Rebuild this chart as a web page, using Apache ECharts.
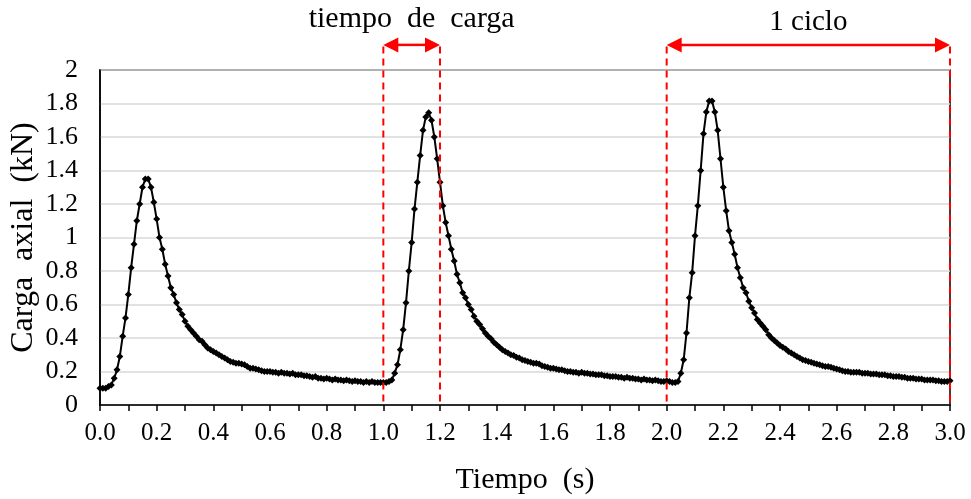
<!DOCTYPE html>
<html>
<head>
<meta charset="utf-8">
<script src="https://cdn.jsdelivr.net/npm/echarts@6/dist/echarts.min.js"></script>
<style>
  html, body { margin: 0; padding: 0; background: #fff; }
  #chart { width: 971px; height: 499px; }
</style>
</head>
<body>
<div id="chart"></div>
<script>
// Sampling interval of the load cell record (s)
const sampleStep = 0.01;

// Axial load (kN), one array per loading cycle, sampled every 0.01 s
const cycle1 = [
  0.10, 0.10, 0.10, 0.11, 0.12, 0.16, 0.21, 0.29, 0.41, 0.52,
  0.66, 0.82, 0.96, 1.10, 1.20, 1.30, 1.35, 1.35, 1.30, 1.21,
  1.11, 1.00, 0.93, 0.84, 0.77, 0.70, 0.66, 0.61, 0.57, 0.54,
  0.50, 0.47, 0.45, 0.43, 0.41, 0.39, 0.38, 0.36, 0.34, 0.33,
  0.32, 0.31, 0.30, 0.29, 0.28, 0.27, 0.26, 0.255, 0.25, 0.25,
  0.245, 0.24, 0.23, 0.22, 0.22, 0.215, 0.21, 0.205, 0.20, 0.20,
  0.20, 0.195, 0.195, 0.19, 0.195, 0.19, 0.19, 0.185, 0.19, 0.18,
  0.18, 0.18, 0.175, 0.175, 0.17, 0.165, 0.17, 0.16, 0.16, 0.155,
  0.16, 0.155, 0.15, 0.155, 0.15, 0.15, 0.145, 0.15, 0.145, 0.14,
  0.145, 0.14, 0.14, 0.135, 0.14, 0.135, 0.14, 0.135, 0.135, 0.135
];
const cycle2 = [
  0.135, 0.135, 0.14, 0.15, 0.19, 0.24, 0.33, 0.45, 0.61, 0.80,
  0.97, 1.17, 1.33, 1.49, 1.64, 1.72, 1.745, 1.70, 1.60, 1.47,
  1.33, 1.19, 1.09, 1.01, 0.93, 0.86, 0.78, 0.73, 0.67, 0.64,
  0.60, 0.57, 0.53, 0.50, 0.48, 0.455, 0.43, 0.41, 0.395, 0.375,
  0.36, 0.345, 0.33, 0.32, 0.31, 0.30, 0.295, 0.285, 0.28, 0.27,
  0.265, 0.26, 0.255, 0.25, 0.25, 0.245, 0.235, 0.23, 0.225, 0.22,
  0.22, 0.215, 0.21, 0.21, 0.205, 0.20, 0.20, 0.195, 0.195, 0.19,
  0.195, 0.19, 0.19, 0.185, 0.185, 0.18, 0.18, 0.18, 0.175, 0.175,
  0.17, 0.17, 0.17, 0.165, 0.165, 0.16, 0.165, 0.16, 0.16, 0.155,
  0.155, 0.15, 0.155, 0.15, 0.15, 0.145, 0.15, 0.145, 0.14, 0.14
];
const cycle3 = [
  0.145, 0.14, 0.135, 0.135, 0.14, 0.19, 0.27, 0.43, 0.64, 0.79,
  1.01, 1.19, 1.40, 1.62, 1.75, 1.815, 1.815, 1.75, 1.64, 1.47,
  1.30, 1.16, 1.04, 0.97, 0.90, 0.82, 0.76, 0.70, 0.67, 0.62,
  0.58, 0.55, 0.51, 0.49, 0.47, 0.45, 0.42, 0.40, 0.385, 0.37,
  0.355, 0.345, 0.335, 0.32, 0.31, 0.30, 0.29, 0.28, 0.27, 0.265,
  0.26, 0.255, 0.25, 0.245, 0.24, 0.235, 0.23, 0.23, 0.225, 0.22,
  0.215, 0.21, 0.205, 0.20, 0.20, 0.195, 0.195, 0.195, 0.195, 0.19,
  0.19, 0.19, 0.185, 0.185, 0.185, 0.18, 0.18, 0.18, 0.175, 0.175,
  0.17, 0.17, 0.17, 0.165, 0.165, 0.16, 0.16, 0.16, 0.155, 0.155,
  0.155, 0.15, 0.15, 0.15, 0.15, 0.145, 0.145, 0.14, 0.14, 0.14,
  0.145
];

// Annotated time spans (s)
const loadTimeSpan = [1.0, 1.2];
const cycleSpan = [2.0, 3.0];
const bracketLevel = 2.15;   // kN, arrow height above the plot
const dashTop = 2.14;        // kN, top of the dashed guides

const serif = '"Liberation Serif", "Times New Roman", serif';

const load = cycle1.concat(cycle2, cycle3);
const series = load.map((v, i) => [+(i * sampleStep).toFixed(2), v]);

const chart = echarts.init(document.getElementById('chart'));
chart.setOption({
  animation: false,
  backgroundColor: '#fff',
  grid: {
    left: 100, right: 21, top: 70, bottom: 94,
    outerBoundsMode: 'none', containLabel: false,
    show: true, borderColor: '#000', borderWidth: 1.5
  },
  xAxis: {
    type: 'value', min: 0, max: 3, interval: 0.1,
    name: 'Tiempo  (s)', nameLocation: 'middle', nameGap: 60,
    nameTextStyle: { fontFamily: serif, fontSize: 30, color: '#000' },
    axisLine: { lineStyle: { color: '#000', width: 1.5 } },
    axisTick: { show: true, length: 6, lineStyle: { color: '#000', width: 1.5 } },
    axisLabel: {
      fontFamily: serif, fontSize: 25, color: '#000', margin: 16,
      formatter: v => (Math.round(v * 10) % 2 === 0 ? v.toFixed(1) : '')
    },
    splitLine: { show: false }
  },
  yAxis: {
    type: 'value', min: 0, max: 2, interval: 0.2,
    name: 'Carga  axial  (kN)', nameLocation: 'middle', nameGap: 60, nameRotate: 90,
    nameMoveOverlap: false,
    nameTextStyle: { fontFamily: serif, fontSize: 32, color: '#000' },
    axisLine: { show: true, lineStyle: { color: '#000', width: 1.5 } },
    axisTick: { show: false },
    axisLabel: {
      fontFamily: serif, fontSize: 26, color: '#000', margin: 22,
      formatter: v => String(+v.toFixed(1))
    },
    splitLine: { show: true, lineStyle: { color: '#d9d9d9', width: 1.5 } }
  },
  series: [{
    type: 'line',
    data: series,
    symbol: 'diamond',
    symbolSize: 7,
    showAllSymbol: true,
    lineStyle: { color: '#000', width: 2 },
    itemStyle: { color: '#000' },
    z: 3
  }]
});

// Dashed guides and double-headed arrows marking the loading time and one cycle
function px(t, v) { return chart.convertToPixel({ gridIndex: 0 }, [t, v]); }
const red = '#ff0000';
const headLen = 15, headHalf = 7.5;
const graphics = [];

function bracket(span, label, labelY, fontSize) {
  const [t0, t1] = span;
  const a = px(t0, bracketLevel), b = px(t1, bracketLevel);
  [t0, t1].forEach(t => {
    const top = px(t, dashTop), bottom = px(t, 0);
    graphics.push({
      type: 'line', z: 10,
      shape: { x1: top[0], y1: top[1], x2: bottom[0], y2: bottom[1] },
      style: { stroke: red, lineWidth: 2, lineDash: [7, 5] }
    });
  });
  graphics.push({
    type: 'line', z: 10,
    shape: { x1: a[0] + headLen - 2, y1: a[1], x2: b[0] - headLen + 2, y2: b[1] },
    style: { stroke: red, lineWidth: 2.5 }
  });
  graphics.push({
    type: 'polygon', z: 10,
    shape: { points: [[a[0], a[1]], [a[0] + headLen, a[1] - headHalf], [a[0] + headLen, a[1] + headHalf]] },
    style: { fill: red }
  });
  graphics.push({
    type: 'polygon', z: 10,
    shape: { points: [[b[0], b[1]], [b[0] - headLen, b[1] - headHalf], [b[0] - headLen, b[1] + headHalf]] },
    style: { fill: red }
  });
  graphics.push({
    type: 'text', z: 10,
    x: (a[0] + b[0]) / 2, y: labelY,
    style: {
      text: label, fill: '#000', font: fontSize + 'px ' + serif,
      textAlign: 'center', textVerticalAlign: 'middle'
    }
  });
}

bracket(loadTimeSpan, 'tiempo  de  carga', 19, 30);
bracket(cycleSpan, '1 ciclo', 22, 29);
chart.setOption({ graphic: graphics });
</script>
</body>
</html>
